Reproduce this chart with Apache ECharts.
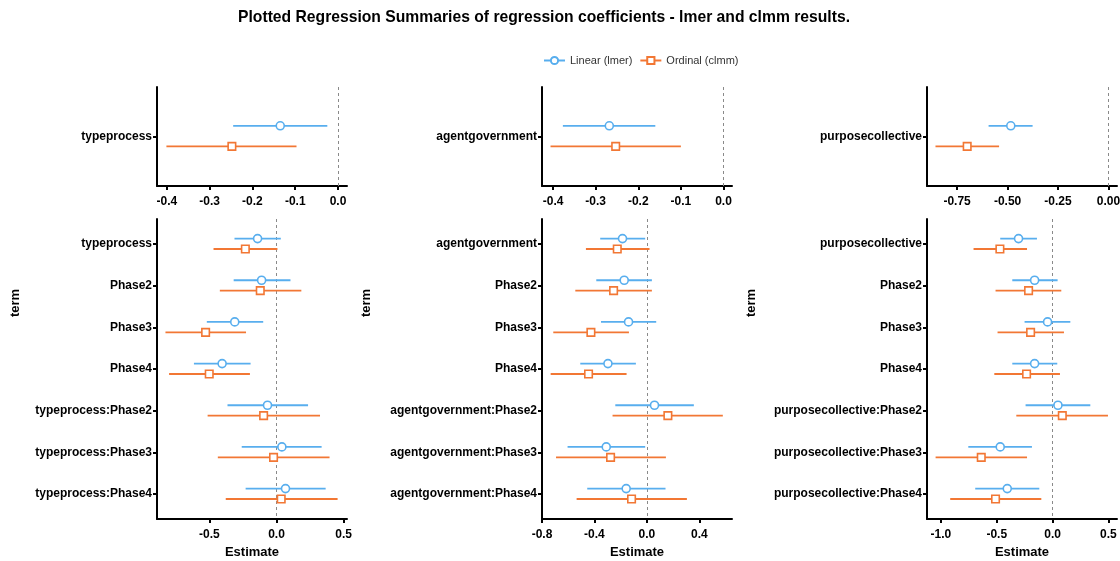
<!DOCTYPE html>
<html>
<head>
<meta charset="utf-8">
<script src="https://cdn.jsdelivr.net/npm/echarts@6/dist/echarts.min.js"></script>
<style>
  html, body { margin: 0; padding: 0; background: #ffffff; }
  #chart { width: 1120px; height: 561px; }
</style>
</head>
<body>
<div id="chart"></div>
<script>
// ---- data ---------------------------------------------------------------
const chartTitle = 'Plotted Regression Summaries of regression coefficients - lmer and clmm results.';
const modelNames = ['Linear (lmer)', 'Ordinal (clmm)'];

// main-effect models (one term per panel)
const mainTerms   = ['typeprocess', 'agentgovernment', 'purposecollective'];
const mainLmerEst  = [-0.135, -0.268, -0.484];
const mainLmerLow  = [-0.245, -0.377, -0.594];
const mainLmerHigh = [-0.025, -0.160, -0.376];
const mainClmmEst  = [-0.248, -0.253, -0.700];
const mainClmmLow  = [-0.401, -0.406, -0.857];
const mainClmmHigh = [-0.097, -0.100, -0.542];

// interaction models: type
const typeTerms    = ['typeprocess', 'Phase2', 'Phase3', 'Phase4', 'typeprocess:Phase2', 'typeprocess:Phase3', 'typeprocess:Phase4'];
const typeLmerEst  = [-0.141, -0.111, -0.311, -0.405, -0.067,  0.040,  0.067];
const typeLmerLow  = [-0.313, -0.319, -0.519, -0.615, -0.365, -0.259, -0.230];
const typeLmerHigh = [ 0.032,  0.104, -0.099, -0.193,  0.235,  0.336,  0.366];
const typeClmmEst  = [-0.232, -0.121, -0.528, -0.501, -0.096, -0.022,  0.035];
const typeClmmLow  = [-0.469, -0.422, -0.827, -0.800, -0.513, -0.437, -0.378];
const typeClmmHigh = [ 0.007,  0.185, -0.227, -0.198,  0.324,  0.395,  0.455];

// interaction models: agent
const agentTerms    = ['agentgovernment', 'Phase2', 'Phase3', 'Phase4', 'agentgovernment:Phase2', 'agentgovernment:Phase3', 'agentgovernment:Phase4'];
const agentLmerEst  = [-0.186, -0.173, -0.140, -0.297,  0.058, -0.310, -0.158];
const agentLmerLow  = [-0.356, -0.386, -0.350, -0.508, -0.241, -0.605, -0.455];
const agentLmerHigh = [-0.013,  0.038,  0.071, -0.084,  0.358, -0.013,  0.142];
const agentClmmEst  = [-0.226, -0.254, -0.427, -0.445,  0.160, -0.277, -0.117];
const agentClmmLow  = [-0.465, -0.546, -0.714, -0.734, -0.262, -0.693, -0.536];
const agentClmmHigh = [ 0.020,  0.038, -0.137, -0.155,  0.579,  0.145,  0.305];

// interaction models: purpose
const purposeTerms    = ['purposecollective', 'Phase2', 'Phase3', 'Phase4', 'purposecollective:Phase2', 'purposecollective:Phase3', 'purposecollective:Phase4'];
const purposeLmerEst  = [-0.305, -0.161, -0.045, -0.161,  0.048, -0.469, -0.406];
const purposeLmerLow  = [-0.469, -0.361, -0.251, -0.361, -0.242, -0.755, -0.693];
const purposeLmerHigh = [-0.140,  0.045,  0.159,  0.042,  0.338, -0.185, -0.119];
const purposeClmmEst  = [-0.472, -0.215, -0.197, -0.233,  0.087, -0.639, -0.511];
const purposeClmmLow  = [-0.708, -0.511, -0.493, -0.522, -0.325, -1.048, -0.917];
const purposeClmmHigh = [-0.229,  0.078,  0.102,  0.066,  0.496, -0.229, -0.101];

// x-axis tick values and ranges
const mainTicks  = [[-0.4, -0.3, -0.2, -0.1, 0.0], [-0.4, -0.3, -0.2, -0.1, 0.0], [-0.75, -0.50, -0.25, 0.00]];
const mainRanges = [[-0.423, 0.021], [-0.426, 0.020], [-0.899, 0.042]];
const intTicks   = [[-0.5, 0.0, 0.5], [-0.8, -0.4, 0.0, 0.4], [-1.0, -0.5, 0.0, 0.5]];
const intRanges  = [[-0.890, 0.525], [-0.800, 0.649], [-1.125, 0.577]];

// ---- styling ------------------------------------------------------------
const COLORS = ['#58AEEE', '#F27734'];
const SYMBOLS = ['circle', 'rect'];
const SYMBOL_SIZES = [8, 7.5];
const DODGE = [-0.13, 0.12];
const FONT = '"Liberation Sans", Arial, Helvetica, sans-serif';

const colLefts = [157, 542, 927];
const colWidth = 190;
const topPanel = { top: 87, height: 99 };
const botPanel = { top: 219, height: 300 };
const termX = [15, 366, 751];

const panels = [];
for (let c = 0; c < 3; c++) {
  panels.push({
    grid: { left: colLefts[c], top: topPanel.top, width: colWidth, height: topPanel.height },
    terms: [mainTerms[c]],
    ticks: mainTicks[c], range: mainRanges[c], decimals: c === 2 ? 2 : 1, xName: '',
    models: [
      { est: [mainLmerEst[c]], low: [mainLmerLow[c]], high: [mainLmerHigh[c]] },
      { est: [mainClmmEst[c]], low: [mainClmmLow[c]], high: [mainClmmHigh[c]] }
    ]
  });
}
const intSets = [
  [typeTerms, typeLmerEst, typeLmerLow, typeLmerHigh, typeClmmEst, typeClmmLow, typeClmmHigh],
  [agentTerms, agentLmerEst, agentLmerLow, agentLmerHigh, agentClmmEst, agentClmmLow, agentClmmHigh],
  [purposeTerms, purposeLmerEst, purposeLmerLow, purposeLmerHigh, purposeClmmEst, purposeClmmLow, purposeClmmHigh]
];
intSets.forEach((s, c) => {
  panels.push({
    grid: { left: colLefts[c], top: botPanel.top, width: colWidth, height: botPanel.height },
    terms: s[0], ticks: intTicks[c], range: intRanges[c], decimals: 1, xName: 'Estimate',
    models: [
      { est: s[1], low: s[2], high: s[3] },
      { est: s[4], low: s[5], high: s[6] }
    ]
  });
});

const grids = [], xAxes = [], yAxes = [];
const series = [];

// legend keys (line + marker icons)
modelNames.forEach((name, m) => {
  series.push({
    name: name, type: 'line', data: [], xAxisIndex: 0, yAxisIndex: 0,
    symbol: SYMBOLS[m], symbolSize: SYMBOL_SIZES[m], color: COLORS[m],
    lineStyle: { color: COLORS[m], width: 1.8 },
    itemStyle: { color: '#ffffff', borderColor: COLORS[m], borderWidth: 1.6 }
  });
});

function renderErrorBar(params, api) {
  const a = api.coord([api.value(0), api.value(2)]);
  const b = api.coord([api.value(1), api.value(2)]);
  return {
    type: 'line',
    shape: { x1: a[0], y1: a[1], x2: b[0], y2: b[1] },
    style: { stroke: api.visual('color'), lineWidth: 1.8 }
  };
}

const axisText = { color: '#000000', fontWeight: 'bold', fontSize: 12, fontFamily: FONT };

panels.forEach((p, i) => {
  grids.push(Object.assign({ containLabel: false, outerBoundsMode: 'none' }, p.grid));
  const n = p.terms.length;
  const termTicks = p.terms.map((t, k) => k + 1);
  xAxes.push({
    type: 'value', gridIndex: i, min: p.range[0], max: p.range[1],
    position: 'bottom',
    axisLine: { show: true, onZero: false, lineStyle: { color: '#000000', width: 2 } },
    axisTick: { show: true, length: 4, customValues: p.ticks, lineStyle: { color: '#000000', width: 2 } },
    axisLabel: Object.assign({ customValues: p.ticks, margin: 9.5,
      formatter: v => Number(v).toFixed(p.decimals) }, axisText),
    splitLine: { show: false },
    name: p.xName, nameLocation: 'middle', nameGap: 27,
    nameTextStyle: { color: '#000000', fontWeight: 'bold', fontSize: 13, fontFamily: FONT }
  });
  yAxes.push({
    type: 'value', gridIndex: i, inverse: true, min: 0.4, max: n + 0.6,
    position: 'left',
    axisLine: { show: true, onZero: false, lineStyle: { color: '#000000', width: 2 } },
    axisTick: { show: true, length: 4, customValues: termTicks, lineStyle: { color: '#000000', width: 2 } },
    axisLabel: Object.assign({ customValues: termTicks, margin: 5,
      formatter: v => p.terms[Math.round(v) - 1] || '' }, axisText),
    splitLine: { show: false }
  });

  p.models.forEach((md, m) => {
    const bars = md.est.map((e, k) => [md.low[k], md.high[k], k + 1 + DODGE[m]]);
    const pts = md.est.map((e, k) => [e, k + 1 + DODGE[m]]);
    const barSeries = {
      name: modelNames[m], type: 'custom', xAxisIndex: i, yAxisIndex: i,
      renderItem: renderErrorBar, data: bars, color: COLORS[m],
      itemStyle: { color: COLORS[m] }, z: 3, silent: true,
      encode: { x: [0, 1], y: 2 }
    };
    if (m === 0) {
      barSeries.markLine = {
        silent: true, symbol: ['none', 'none'], label: { show: false },
        lineStyle: { color: '#8a8a8a', width: 1, type: [3, 3] },
        data: [{ xAxis: 0 }], z: 1
      };
    }
    series.push(barSeries);
    series.push({
      name: modelNames[m], type: 'scatter', xAxisIndex: i, yAxisIndex: i,
      data: pts, symbol: SYMBOLS[m], symbolSize: SYMBOL_SIZES[m], z: 4, silent: true,
      itemStyle: { color: '#ffffff', borderColor: COLORS[m], borderWidth: 1.6, opacity: 1 }
    });
  });
});

const chart = echarts.init(document.getElementById('chart'), null, { renderer: 'canvas' });
chart.setOption({
  animation: false,
  backgroundColor: '#ffffff',
  title: {
    text: chartTitle, left: 233, top: 5,
    textStyle: { color: '#000000', fontWeight: 'bold', fontSize: 15.7, fontFamily: FONT }
  },
  legend: {
    data: modelNames, left: 543, top: 55, padding: 0, itemWidth: 21, itemHeight: 9, itemGap: 7,
    textStyle: { color: '#333333', fontSize: 11, fontFamily: FONT }
  },
  graphic: termX.map(x => ({
    type: 'text', x: x, y: 303, rotation: Math.PI / 2,
    style: { text: 'term', fill: '#000000', font: 'bold 13px ' + FONT, align: 'center', verticalAlign: 'middle' }
  })),
  grid: grids, xAxis: xAxes, yAxis: yAxes, series: series
});
</script>
</body>
</html>
